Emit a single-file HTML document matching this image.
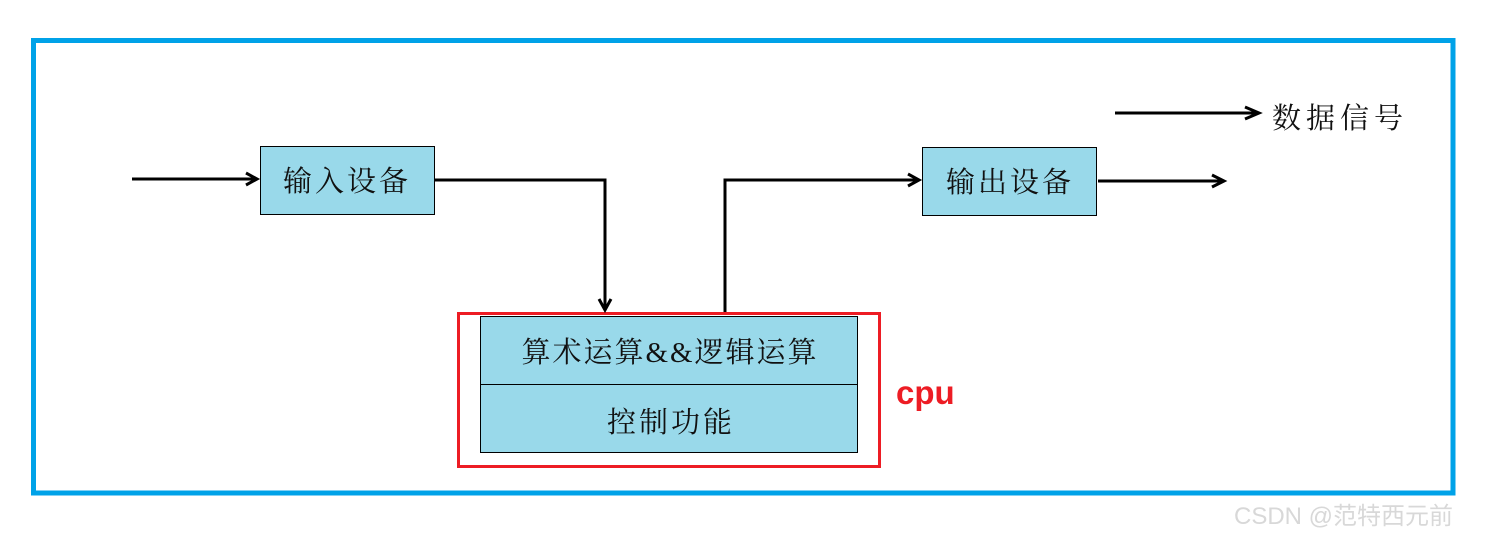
<!DOCTYPE html>
<html><head><meta charset="utf-8"><style>
html,body{margin:0;padding:0;background:#fff;}
svg{display:block;}
.t{font-family:"Liberation Serif","Noto Serif CJK SC",serif;font-size:29px;fill:#111;}
</style></head><body>
<svg width="1488" height="540" viewBox="0 0 1488 540" xmlns="http://www.w3.org/2000/svg">
<rect x="33.5" y="40.5" width="1419.5" height="452.5" fill="none" stroke="#00a2e8" stroke-width="5"/>
<rect x="260.5" y="146.5" width="174" height="68" fill="#99d9ea" stroke="#000" stroke-width="1"/>
<text class="t" x="347" y="191" text-anchor="middle" letter-spacing="3">输入设备</text>
<rect x="922.5" y="147.5" width="174" height="68" fill="#99d9ea" stroke="#000" stroke-width="1"/>
<text class="t" x="1010" y="192" text-anchor="middle" letter-spacing="3">输出设备</text>
<rect x="458.5" y="313.5" width="421" height="153" fill="none" stroke="#ed1c24" stroke-width="3"/>
<rect x="480.5" y="316.5" width="377" height="136" fill="#99d9ea" stroke="#000" stroke-width="1"/>
<line x1="480" y1="384.5" x2="858" y2="384.5" stroke="#000" stroke-width="1"/>
<text class="t" x="670" y="362" text-anchor="middle" letter-spacing="2">算术运算&amp;&amp;逻辑运算</text>
<text class="t" x="671" y="432" text-anchor="middle" letter-spacing="3">控制功能</text>
<text x="896" y="404" font-family="Liberation Sans,sans-serif" font-weight="bold" font-size="33" fill="#ed1c24">cpu</text>
<g fill="none" stroke="#000" stroke-width="3">
<path d="M132 179 H256"/><path d="M246 173 L257 179 L246 185"/>
<path d="M434 180 H605 V310"/><path d="M599 299 L605 310 L611 299"/>
<path d="M725 312 V180 H918"/><path d="M908 174 L919 180 L908 186"/>
<path d="M1098 181 H1223"/><path d="M1212 175 L1224 181 L1212 187"/>
<path d="M1115 113 H1258"/><path d="M1245 107 L1259 113 L1245 119"/>
</g>
<text class="t" x="1272" y="128" letter-spacing="5" fill="#333">数据信号</text>
<text x="1234" y="524" font-family="Liberation Sans,'Noto Sans CJK SC',sans-serif" font-size="24" fill="#d8d8d8">CSDN @范特西元前</text>
</svg>
</body></html>
